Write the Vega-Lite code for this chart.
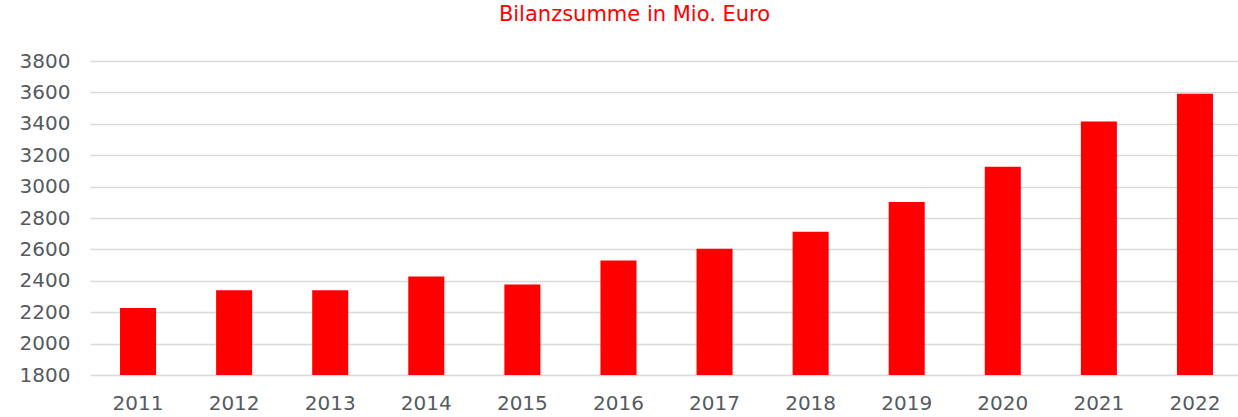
{
  "$schema": "https://vega.github.io/schema/vega-lite/v6.json",
  "autosize": "none",
  "width": 1153,
  "height": 314,
  "padding": {"left": 90, "top": 61, "right": 0, "bottom": 42},
  "background": "white",
  "title": {
    "text": "Bilanzsumme in Mio. Euro",
    "color": "#ff0000",
    "font": "DejaVu Sans",
    "fontSize": 21,
    "fontWeight": "normal",
    "anchor": "middle",
    "dx": -32,
    "offset": 26
  },
  "data": {
    "values": [
      {"Jahr": "2011", "Bilanzsumme": 2227},
      {"Jahr": "2012", "Bilanzsumme": 2340},
      {"Jahr": "2013", "Bilanzsumme": 2340},
      {"Jahr": "2014", "Bilanzsumme": 2427},
      {"Jahr": "2015", "Bilanzsumme": 2376},
      {"Jahr": "2016", "Bilanzsumme": 2530},
      {"Jahr": "2017", "Bilanzsumme": 2604},
      {"Jahr": "2018", "Bilanzsumme": 2713},
      {"Jahr": "2019", "Bilanzsumme": 2902},
      {"Jahr": "2020", "Bilanzsumme": 3127},
      {"Jahr": "2021", "Bilanzsumme": 3414},
      {"Jahr": "2022", "Bilanzsumme": 3592}
    ]
  },
  "mark": {"type": "bar", "color": "#ff0000", "clip": true},
  "encoding": {
    "x": {
      "field": "Jahr",
      "type": "ordinal",
      "scale": {"paddingInner": 0.625, "paddingOuter": 0.3125},
      "axis": {
        "title": null,
        "labelAngle": 0,
        "domain": false,
        "ticks": false,
        "labelPadding": 18,
        "labelFont": "DejaVu Sans",
        "labelFontSize": 20,
        "labelColor": "#555a60"
      }
    },
    "y": {
      "field": "Bilanzsumme",
      "type": "quantitative",
      "scale": {"domain": [1800, 3800], "zero": false, "nice": false},
      "axis": {
        "title": null,
        "format": "d",
        "values": [1800, 2000, 2200, 2400, 2600, 2800, 3000, 3200, 3400, 3600, 3800],
        "domain": false,
        "ticks": false,
        "labelPadding": 20,
        "labelFont": "DejaVu Sans",
        "labelFontSize": 20,
        "labelColor": "#555a60",
        "gridColor": "#d9d9d9",
        "gridWidth": 1.5
      }
    }
  },
  "config": {"view": {"stroke": null}}
}
